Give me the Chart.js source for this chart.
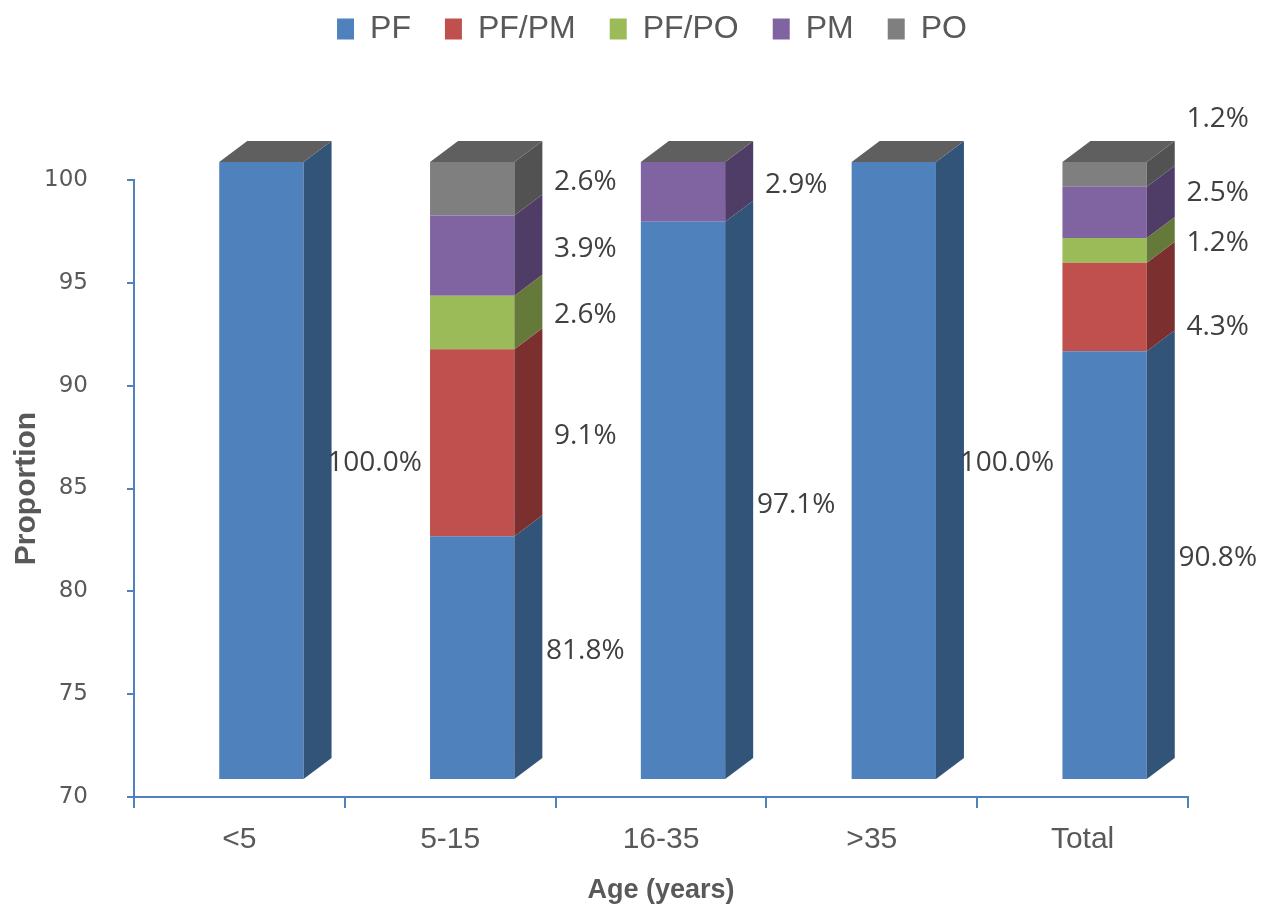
<!DOCTYPE html>
<html>
<head>
<meta charset="utf-8">
<script src="https://cdn.jsdelivr.net/npm/chart.js@4.4.1/dist/chart.umd.min.js"></script>
<style>
  html, body { margin: 0; padding: 0; background: #fff; }
  canvas { display: block; }
</style>
</head>
<body>
<canvas id="ageChart" width="1272" height="907"></canvas>
<script>
// Data (percent of cases per age group)
const categories = ['<5', '5-15', '16-35', '>35', 'Total'];
const seriesNames = ['PF', 'PF/PM', 'PF/PO', 'PM', 'PO'];
const pf   = [100.0, 81.8, 97.1, 100.0, 90.8];
const pfPm = [0, 9.1, 0, 0, 4.3];
const pfPo = [0, 2.6, 0, 0, 1.2];
const pm   = [0, 3.9, 2.9, 0, 2.5];
const po   = [0, 2.6, 0, 0, 1.2];
const yTicks = [70, 75, 80, 85, 90, 95, 100];

const seriesValues = [pf, pfPm, pfPo, pm, po];
const frontColors = ['#4f81bd', '#c0504d', '#9bbb59', '#8064a2', '#7f7f7f'];
const sideColors = ['#325479', '#7b2f2f', '#64793a', '#4f3d67', '#525252'];
const topColor = '#5f5f5f';

// fake 3D look
const DEPTH_X = 28, DEPTH_Y = 21;
const SHIFT_X = 22, SHIFT_Y = -18;

// labels that were moved by hand in the original (dataset,category -> dy)
const labelNudge = { '1,4': 27, '3,4': -12, '4,4': -48, '0,2': 12 };

function poly(ctx, pts, color) {
  ctx.beginPath();
  ctx.moveTo(pts[0][0], pts[0][1]);
  for (let k = 1; k < pts.length; k++) ctx.lineTo(pts[k][0], pts[k][1]);
  ctx.closePath();
  ctx.fillStyle = color;
  ctx.fill();
}

const bars3d = {
  id: 'bars3d',
  beforeInit(chart) {
    // leave room between legend and plot like the original
    const fit = chart.legend.fit;
    chart.legend.fit = function () {
      fit.call(this);
      this.height = 180;
    };
  },
  afterLayout(chart) {
    const lg = chart.legend;
    lg.left += 58; lg.right += 58;
    lg.top -= 21; lg.bottom -= 21;
  },
  beforeDatasetsDraw(chart) {
    chart.ctx.save();
    chart.ctx.translate(SHIFT_X, SHIFT_Y);
  },
  afterDatasetsDraw(chart) {
    const ctx = chart.ctx;
    const floor = chart.chartArea.bottom;
    const boxes = [];

    chart.data.datasets.forEach((ds, i) => {
      const meta = chart.getDatasetMeta(i);
      meta.data.forEach((bar, j) => {
        const { x, y, base, width } = bar.getProps(['x', 'y', 'base', 'width'], true);
        const top = Math.min(y, base);
        const bottom = Math.min(Math.max(y, base), floor);
        const right = x + width / 2;
        if (!ds.data[j]) return;
        poly(ctx, [[right, top], [right + DEPTH_X, top - DEPTH_Y],
                   [right + DEPTH_X, bottom - DEPTH_Y], [right, bottom]], sideColors[i]);
        boxes.push({ i, j, top, bottom, right, v: ds.data[j] });
      });
    });

    // top face of each stack
    const last = chart.getDatasetMeta(chart.data.datasets.length - 1);
    last.data.forEach(bar => {
      const { x, y, width } = bar.getProps(['x', 'y', 'width'], true);
      const l = x - width / 2, r = x + width / 2;
      poly(ctx, [[l, y], [l + DEPTH_X, y - DEPTH_Y], [r + DEPTH_X, y - DEPTH_Y], [r, y]], topColor);
    });

    // data labels to the right of the bars
    ctx.font = '28px "Open Sans"';
    ctx.fillStyle = '#404040';
    ctx.textAlign = 'center';
    ctx.textBaseline = 'middle';
    boxes.forEach(b => {
      const dy = labelNudge[b.i + ',' + b.j] || 0;
      ctx.fillText(b.v.toFixed(1) + '%', b.right + DEPTH_X + 43, (b.top + b.bottom) / 2 - 7 + dy);
    });

    ctx.restore();
  }
};

const ctx = document.getElementById('ageChart').getContext('2d');

new Chart(ctx, {
  type: 'bar',
  data: {
    labels: categories,
    datasets: seriesNames.map((name, i) => ({
      label: name,
      data: seriesValues[i],
      backgroundColor: frontColors[i],
      borderWidth: 0,
      barPercentage: 0.4,
      categoryPercentage: 1.0
    }))
  },
  options: {
    responsive: false,
    animation: false,
    layout: { padding: { left: 0, right: 84, top: 0, bottom: 0 } },
    plugins: {
      tooltip: { enabled: false },
      legend: {
        position: 'top',
        labels: {
          boxWidth: 17,
          boxHeight: 21,
          padding: 34,
          color: '#595959',
          font: { family: 'Liberation Sans', size: 32 }
        }
      }
    },
    scales: {
      x: {
        stacked: true,
        afterFit: s => { s.height = 110; },
        border: { color: '#4f81bd', width: 2 },
        grid: { offset: true, drawOnChartArea: false, tickLength: 11, color: '#4f81bd', lineWidth: 2 },
        ticks: { padding: 14, color: '#595959', font: { family: 'Liberation Sans', size: 30 } },
        title: {
          display: true, text: 'Age (years)', color: '#595959',
          font: { family: 'Liberation Sans', size: 27, weight: 'bold' },
          padding: { top: 0, bottom: 0 }
        }
      },
      y: {
        stacked: true,
        min: 70,
        max: 100,
        afterFit: s => { s.width = 134; },
        afterBuildTicks: s => { s.ticks = yTicks.map(v => ({ value: v })); },
        border: { color: '#4f81bd', width: 2 },
        grid: { drawOnChartArea: false, tickLength: 7, color: '#4f81bd', lineWidth: 2 },
        ticks: { padding: 39, color: '#595959', font: { family: 'DejaVu Sans', size: 23 } },
        title: {
          display: true, text: 'Proportion', color: '#595959',
          font: { family: 'Liberation Sans', size: 30, weight: 'bold' },
          padding: { top: 9, bottom: 0 }
        }
      }
    }
  },
  plugins: [bars3d]
});
</script>
</body>
</html>
